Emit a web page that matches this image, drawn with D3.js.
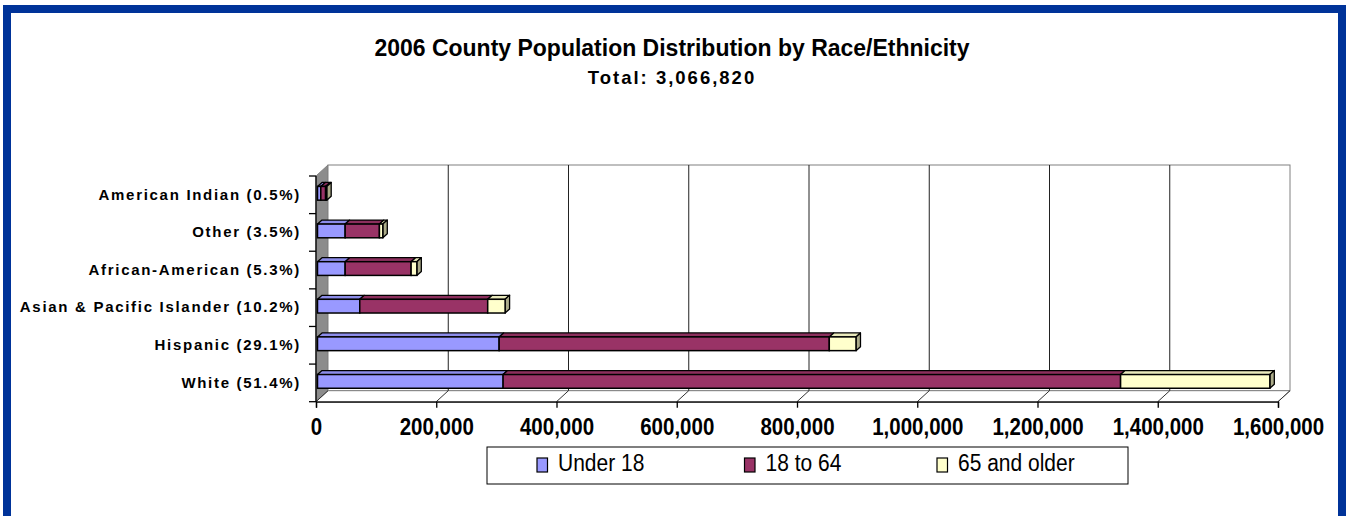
<!DOCTYPE html>
<html>
<head>
<meta charset="utf-8">
<script src="https://cdn.jsdelivr.net/npm/d3@7"></script>
<style>
  html, body { margin: 0; padding: 0; background: #fff; }
  svg { display: block; }
  text { font-family: "Liberation Sans", Arial, sans-serif; }
</style>
</head>
<body>
<svg id="chart" width="1346" height="516"></svg>
<script>
// ---- data ----
const categories = [
  "American Indian (0.5%)",
  "Other (3.5%)",
  "African-American (5.3%)",
  "Asian & Pacific Islander (10.2%)",
  "Hispanic (29.1%)",
  "White (51.4%)"
];
const under18   = [5500, 46000, 46000, 70300, 302100, 308700];
const age18to64 = [8000, 57000, 109700, 212800, 549100, 1027000];
const age65plus = [1800, 5600, 9500, 28900, 44400, 248200];
const seriesNames = ["Under 18", "18 to 64", "65 and older"];
const seriesColors = ["#9999FF", "#993366", "#FFFFCC"];
const xTickValues = [0, 200000, 400000, 600000, 800000, 1000000, 1200000, 1400000, 1600000];
const titleText = "2006 County Population Distribution by Race/Ethnicity";
const subtitleText = "Total: 3,066,820";

// ---- layout ----
const svg = d3.select("#chart");
const W = 1346, H = 516;
const DX = 12, DY = -11;          // wall depth
const BDX = 4.5, BDY = -4;        // bar depth
const BOFF = 1.5;                  // bar front offset inside depth

const x = d3.scaleLinear().domain([0, 1600000]).range([316, 1278]);
const y = d3.scaleBand().domain(categories).range([176, 401.7]).padding(0);

// background + blue frame
svg.append("rect").attr("x", 0).attr("y", 0).attr("width", W).attr("height", H).attr("fill", "#fff");
svg.append("rect").attr("x", 7).attr("y", 9).attr("width", 1335).attr("height", 530)
  .attr("fill", "none").attr("stroke", "#003399").attr("stroke-width", 8);

// titles
svg.append("text").attr("x", 672).attr("y", 56).attr("text-anchor", "middle")
  .attr("font-size", 23).attr("font-weight", "bold")
  .attr("transform", "translate(0,56) scale(1,1.08) translate(0,-56)").text(titleText);
svg.append("text").attr("x", 672).attr("y", 84).attr("text-anchor", "middle")
  .attr("font-size", 18.5).attr("font-weight", "bold").attr("letter-spacing", 2).text(subtitleText);

const x0 = x(0), x1 = x(1600000);
const yTop = y.range()[0], yBot = y.range()[1];

// walls
const g = svg.append("g");
g.append("polygon")
  .attr("points", [[x0, yTop], [x0 + DX, yTop + DY], [x0 + DX, yBot + DY], [x0, yBot]].join(" "))
  .attr("fill", "#8c8c8c").attr("stroke", "#808080");
g.append("rect").attr("x", x0 + DX).attr("y", yTop + DY).attr("width", x1 - x0).attr("height", yBot - yTop)
  .attr("fill", "#fff").attr("stroke", "#808080");
g.append("polygon")
  .attr("points", [[x0, yBot], [x1, yBot], [x1 + DX, yBot + DY], [x0 + DX, yBot + DY]].join(" "))
  .attr("fill", "#fff").attr("stroke", "#808080");

// gridlines on back wall and floor
xTickValues.slice(1, -1).forEach(v => {
  g.append("line").attr("x1", x(v) + DX).attr("x2", x(v) + DX)
    .attr("y1", yTop + DY).attr("y2", yBot + DY).attr("stroke", "#222").attr("stroke-width", 1);
});
xTickValues.forEach(v => {
  g.append("line").attr("x1", x(v)).attr("y1", yBot).attr("x2", x(v) + DX).attr("y2", yBot + DY)
    .attr("stroke", "#333").attr("stroke-width", 1);
});

// bars
const series = [under18, age18to64, age65plus];
const barH = y.bandwidth() * 0.365;
const bars = svg.append("g");
categories.forEach((c, i) => {
  const yc = y(c) + y.bandwidth() / 2 - 1.5;
  const top = yc - barH / 2, bot = yc + barH / 2;
  let cum = 0;
  const segs = series.map((s, k) => {
    const a = cum; cum += s[i];
    return { k, xa: x(a) + BOFF, xb: x(cum) + BOFF };
  });
  segs.forEach(sg => {
    const col = seriesColors[sg.k];
    bars.append("polygon")
      .attr("points", [[sg.xa, top], [sg.xb, top], [sg.xb + BDX, top + BDY], [sg.xa + BDX, top + BDY]].join(" "))
      .attr("fill", d3.color(col).darker(0.25)).attr("stroke", "#000").attr("stroke-width", 1.3)
      .attr("stroke-linejoin", "round");
  });
  const last = segs[segs.length - 1];
  bars.append("polygon")
    .attr("points", [[last.xb, top], [last.xb + BDX, top + BDY], [last.xb + BDX, bot + BDY], [last.xb, bot]].join(" "))
    .attr("fill", d3.color(seriesColors[last.k]).darker(1.1)).attr("stroke", "#000").attr("stroke-width", 1.3)
    .attr("stroke-linejoin", "round");
  segs.forEach(sg => {
    bars.append("rect").attr("x", sg.xa).attr("y", top).attr("width", Math.max(0, sg.xb - sg.xa)).attr("height", barH)
      .attr("fill", seriesColors[sg.k]).attr("stroke", "#000").attr("stroke-width", 1.5);
  });
});

// x axis
const xAxis = d3.axisBottom(x).tickValues(xTickValues).tickSize(6).tickPadding(10)
  .tickFormat(d3.format(","));
const gx = svg.append("g").attr("transform", `translate(0,${yBot})`).call(xAxis);
gx.select(".domain").attr("stroke", "#000").attr("stroke-width", 1.3);
gx.selectAll(".tick line").attr("stroke", "#000").attr("stroke-width", 1.3);
gx.selectAll(".tick text").attr("font-size", 20.5).attr("font-weight", "bold").attr("fill", "#000")
  .attr("font-family", "'Liberation Sans', Arial, sans-serif")
  .attr("transform", "translate(0,16) scale(1,1.18) translate(0,-16)");

// y axis
const yAxis = d3.axisLeft(y).tickSize(0).tickPadding(15);
const gy = svg.append("g").attr("transform", `translate(${x0},0)`).call(yAxis);
gy.select(".domain").remove();
gy.selectAll(".tick text").attr("font-size", 15).attr("font-weight", "bold").attr("fill", "#000")
  .attr("letter-spacing", 1.7).attr("font-family", "'Liberation Sans', Arial, sans-serif");
svg.append("line").attr("x1", x0).attr("x2", x0).attr("y1", yTop).attr("y2", yBot)
  .attr("stroke", "#000").attr("stroke-width", 1.3);
const bounds = categories.map(c => y(c)).concat([yBot]);
bounds.forEach(b => {
  svg.append("line").attr("x1", x0 - 7).attr("x2", x0).attr("y1", b).attr("y2", b)
    .attr("stroke", "#000").attr("stroke-width", 1.3);
});

// legend
const lg = svg.append("g");
lg.append("rect").attr("x", 487).attr("y", 447).attr("width", 641).attr("height", 37)
  .attr("fill", "#fff").attr("stroke", "#000").attr("stroke-width", 1);
const legX = [537, 744.5, 937];
seriesNames.forEach((n, k) => {
  lg.append("rect").attr("x", legX[k]).attr("y", 458).attr("width", 10.5).attr("height", 14)
    .attr("fill", seriesColors[k]).attr("stroke", "#000").attr("stroke-width", 1.2);
  lg.append("text").attr("x", legX[k] + 21).attr("y", 471).attr("font-size", 21)
    .attr("transform", "translate(0,471) scale(1,1.1) translate(0,-471)").text(n);
});
</script>
</body>
</html>
